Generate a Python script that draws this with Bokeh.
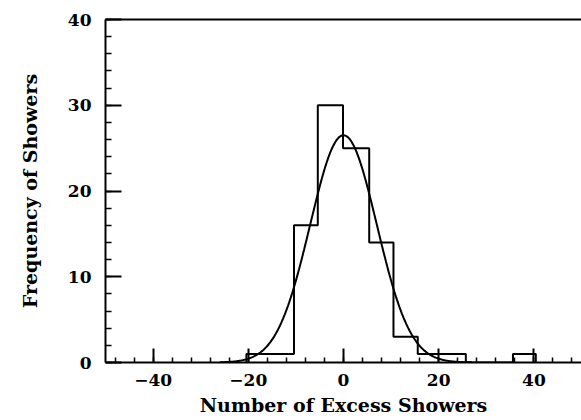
import numpy as np
from bokeh.plotting import figure
from bokeh.models import FixedTicker, LinearAxis
from bokeh.embed import file_html
from bokeh.resources import INLINE

# Histogram data (bin edges and counts)
bin_edges = [-20.4, -15.4, -10.4, -5.4, -0.1, 5.4, 10.5, 15.6, 20.6, 25.7, 30.6, 35.6, 40.4]
counts = [1, 1, 16, 30, 25, 14, 3, 1, 1, 0, 0, 1]

# Gaussian fit parameters
fit_amplitude = 26.5
fit_mean = 0.0
fit_sigma = 7.0
fit_range = [-26.0, 27.0]

x_ticks = [-40, -20, 0, 20, 40]
x_tick_labels = ["\u221240", "\u221220", "0", "20", "40"]
y_ticks = [0, 10, 20, 30, 40]

FONT = "DejaVu Serif"

p = figure(width=581, height=418, x_range=(-50, 50), y_range=(0, 40),
           output_backend="svg", toolbar_location=None,
           min_border_left=105, min_border_right=0, min_border_top=19,
           min_border_bottom=56)
p.grid.visible = False
p.outline_line_color = None
p.background_fill_color = "white"
p.border_fill_color = "white"

# step histogram outline
step_x = [bin_edges[0]] + [e for e in bin_edges[1:-1] for _ in (0, 1)] + [bin_edges[-1]]
step_y = []
for c in counts:
    step_y += [c, c]
xs = [bin_edges[0]] + step_x + [bin_edges[-1]]
ys = [0] + step_y + [0]
p.line(xs, ys, line_color="black", line_width=2)

# gaussian fit curve
gx = np.linspace(fit_range[0], fit_range[1], 300)
gy = fit_amplitude * np.exp(-0.5 * ((gx - fit_mean) / fit_sigma) ** 2)
p.line(gx, gy, line_color="black", line_width=2)

xax = p.below[0]
yax = p.left[0]

# top border as a bare axis line
top = LinearAxis(ticker=FixedTicker(ticks=[]), axis_line_width=2, axis_line_color="black",
                 major_tick_in=0, major_tick_out=0, minor_tick_in=0, minor_tick_out=0,
                 major_label_text_font_size="0px")
p.add_layout(top, "above")

for ax in (xax, yax):
    ax.axis_line_width = 2
    ax.axis_line_color = "black"
    ax.major_tick_line_width = 2
    ax.minor_tick_line_width = 1.5
    ax.major_tick_out = 0
    ax.minor_tick_out = 0
    ax.major_label_text_font = FONT
    ax.major_label_text_font_style = "bold"
    ax.major_label_text_font_size = "17px"
    ax.major_label_text_color = "black"
    ax.axis_label_text_font = FONT
    ax.axis_label_text_font_style = "bold"
    ax.axis_label_text_font_size = "19px"
    ax.axis_label_text_color = "black"

xax.ticker = FixedTicker(ticks=x_ticks, minor_ticks=list(range(-48, 49, 4)))
xax.major_label_overrides = dict(zip(x_ticks, x_tick_labels))
xax.major_tick_in = 14
xax.minor_tick_in = 5
xax.major_label_standoff = 11
xax.axis_label = "Number of Excess Showers"
xax.axis_label_standoff = 5

yax.ticker = FixedTicker(ticks=y_ticks, minor_ticks=list(range(0, 41, 2)))
yax.major_tick_in = 16
yax.minor_tick_in = 6
yax.major_label_standoff = 14
yax.axis_label = "Frequency of Showers"
yax.axis_label_standoff = 24

open("out.html", "w").write(file_html(p, INLINE))
